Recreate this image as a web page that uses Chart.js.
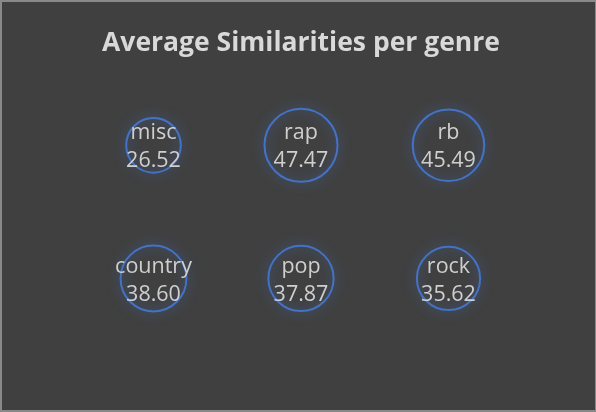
<!DOCTYPE html>
<html>
<head>
<meta charset="utf-8">
<script src="https://cdn.jsdelivr.net/npm/chart.js@4"></script>
<style>
  html, body { margin: 0; padding: 0; background: #404040; }
  #wrap { position: relative; width: 596px; height: 412px; }
  #frame { position: absolute; left: 0; top: 0; right: 0; bottom: 0;
    border: 2px solid #898989; border-right-width: 1px; pointer-events: none; }
</style>
</head>
<body>
<div id="wrap">
  <canvas id="genreChart" width="596" height="412"></canvas>
  <div id="frame"></div>
</div>
<script>
const genres = ['misc', 'rap', 'rb', 'country', 'pop', 'rock'];
const similarities = [26.52, 47.47, 45.49, 38.60, 37.87, 35.62];
const gridCols = [1, 2, 3, 1, 2, 3];
const gridRows = [2, 2, 2, 1, 1, 1];

const textColor = '#d9d9d9';
const bubbleBlue = '#4472C4';

const bubbleData = genres.map((g, i) => ({
  x: gridCols[i],
  y: gridRows[i],
  r: 5.3 * Math.sqrt(similarities[i]),
  label: g,
  value: similarities[i],
}));

// soft blue glow round each circle
const glowPlugin = {
  id: 'glow',
  beforeDatasetDraw(chart) {
    const ctx = chart.ctx;
    ctx.save();
    ctx.shadowColor = 'rgba(68, 114, 196, 0.8)';
    ctx.shadowBlur = 12;
  },
  afterDatasetDraw(chart) {
    chart.ctx.restore();
  },
};

// genre name and value written inside each bubble
const bubbleLabels = {
  id: 'bubbleLabels',
  afterDatasetsDraw(chart) {
    const ctx = chart.ctx;
    const meta = chart.getDatasetMeta(0);
    ctx.save();
    ctx.fillStyle = '#cfcfcf';
    ctx.font = '21.5px "Open Sans", sans-serif';
    ctx.textAlign = 'center';
    ctx.textBaseline = 'middle';
    meta.data.forEach((pt, i) => {
      const d = bubbleData[i];
      ctx.fillText(d.label, pt.x, pt.y - 12);
      ctx.fillText(d.value.toFixed(2), pt.x, pt.y + 16);
    });
    ctx.restore();
  },
};

const ctx = document.getElementById('genreChart').getContext('2d');

new Chart(ctx, {
  type: 'bubble',
  data: {
    datasets: [
      {
        data: bubbleData,
        backgroundColor: 'rgba(0,0,0,0)',
        borderColor: bubbleBlue,
        borderWidth: 2,
        clip: false,
      },
    ],
  },
  options: {
    responsive: false,
    animation: false,
    layout: {
      autoPadding: false,
      padding: { left: 6, right: 0, top: 0, bottom: 67 },
    },
    scales: {
      x: { display: false, min: 0, max: 4 },
      y: { display: false, min: 0.5, max: 2.5 },
    },
    plugins: {
      legend: { display: false },
      tooltip: { enabled: false },
      title: {
        display: true,
        text: 'Average Similarities per genre',
        color: textColor,
        font: { size: 26.5, weight: 'bold', family: '"Open Sans", sans-serif' },
        padding: { top: 28, bottom: 19 },
      },
    },
  },
  plugins: [glowPlugin, bubbleLabels],
});
</script>
</body>
</html>
